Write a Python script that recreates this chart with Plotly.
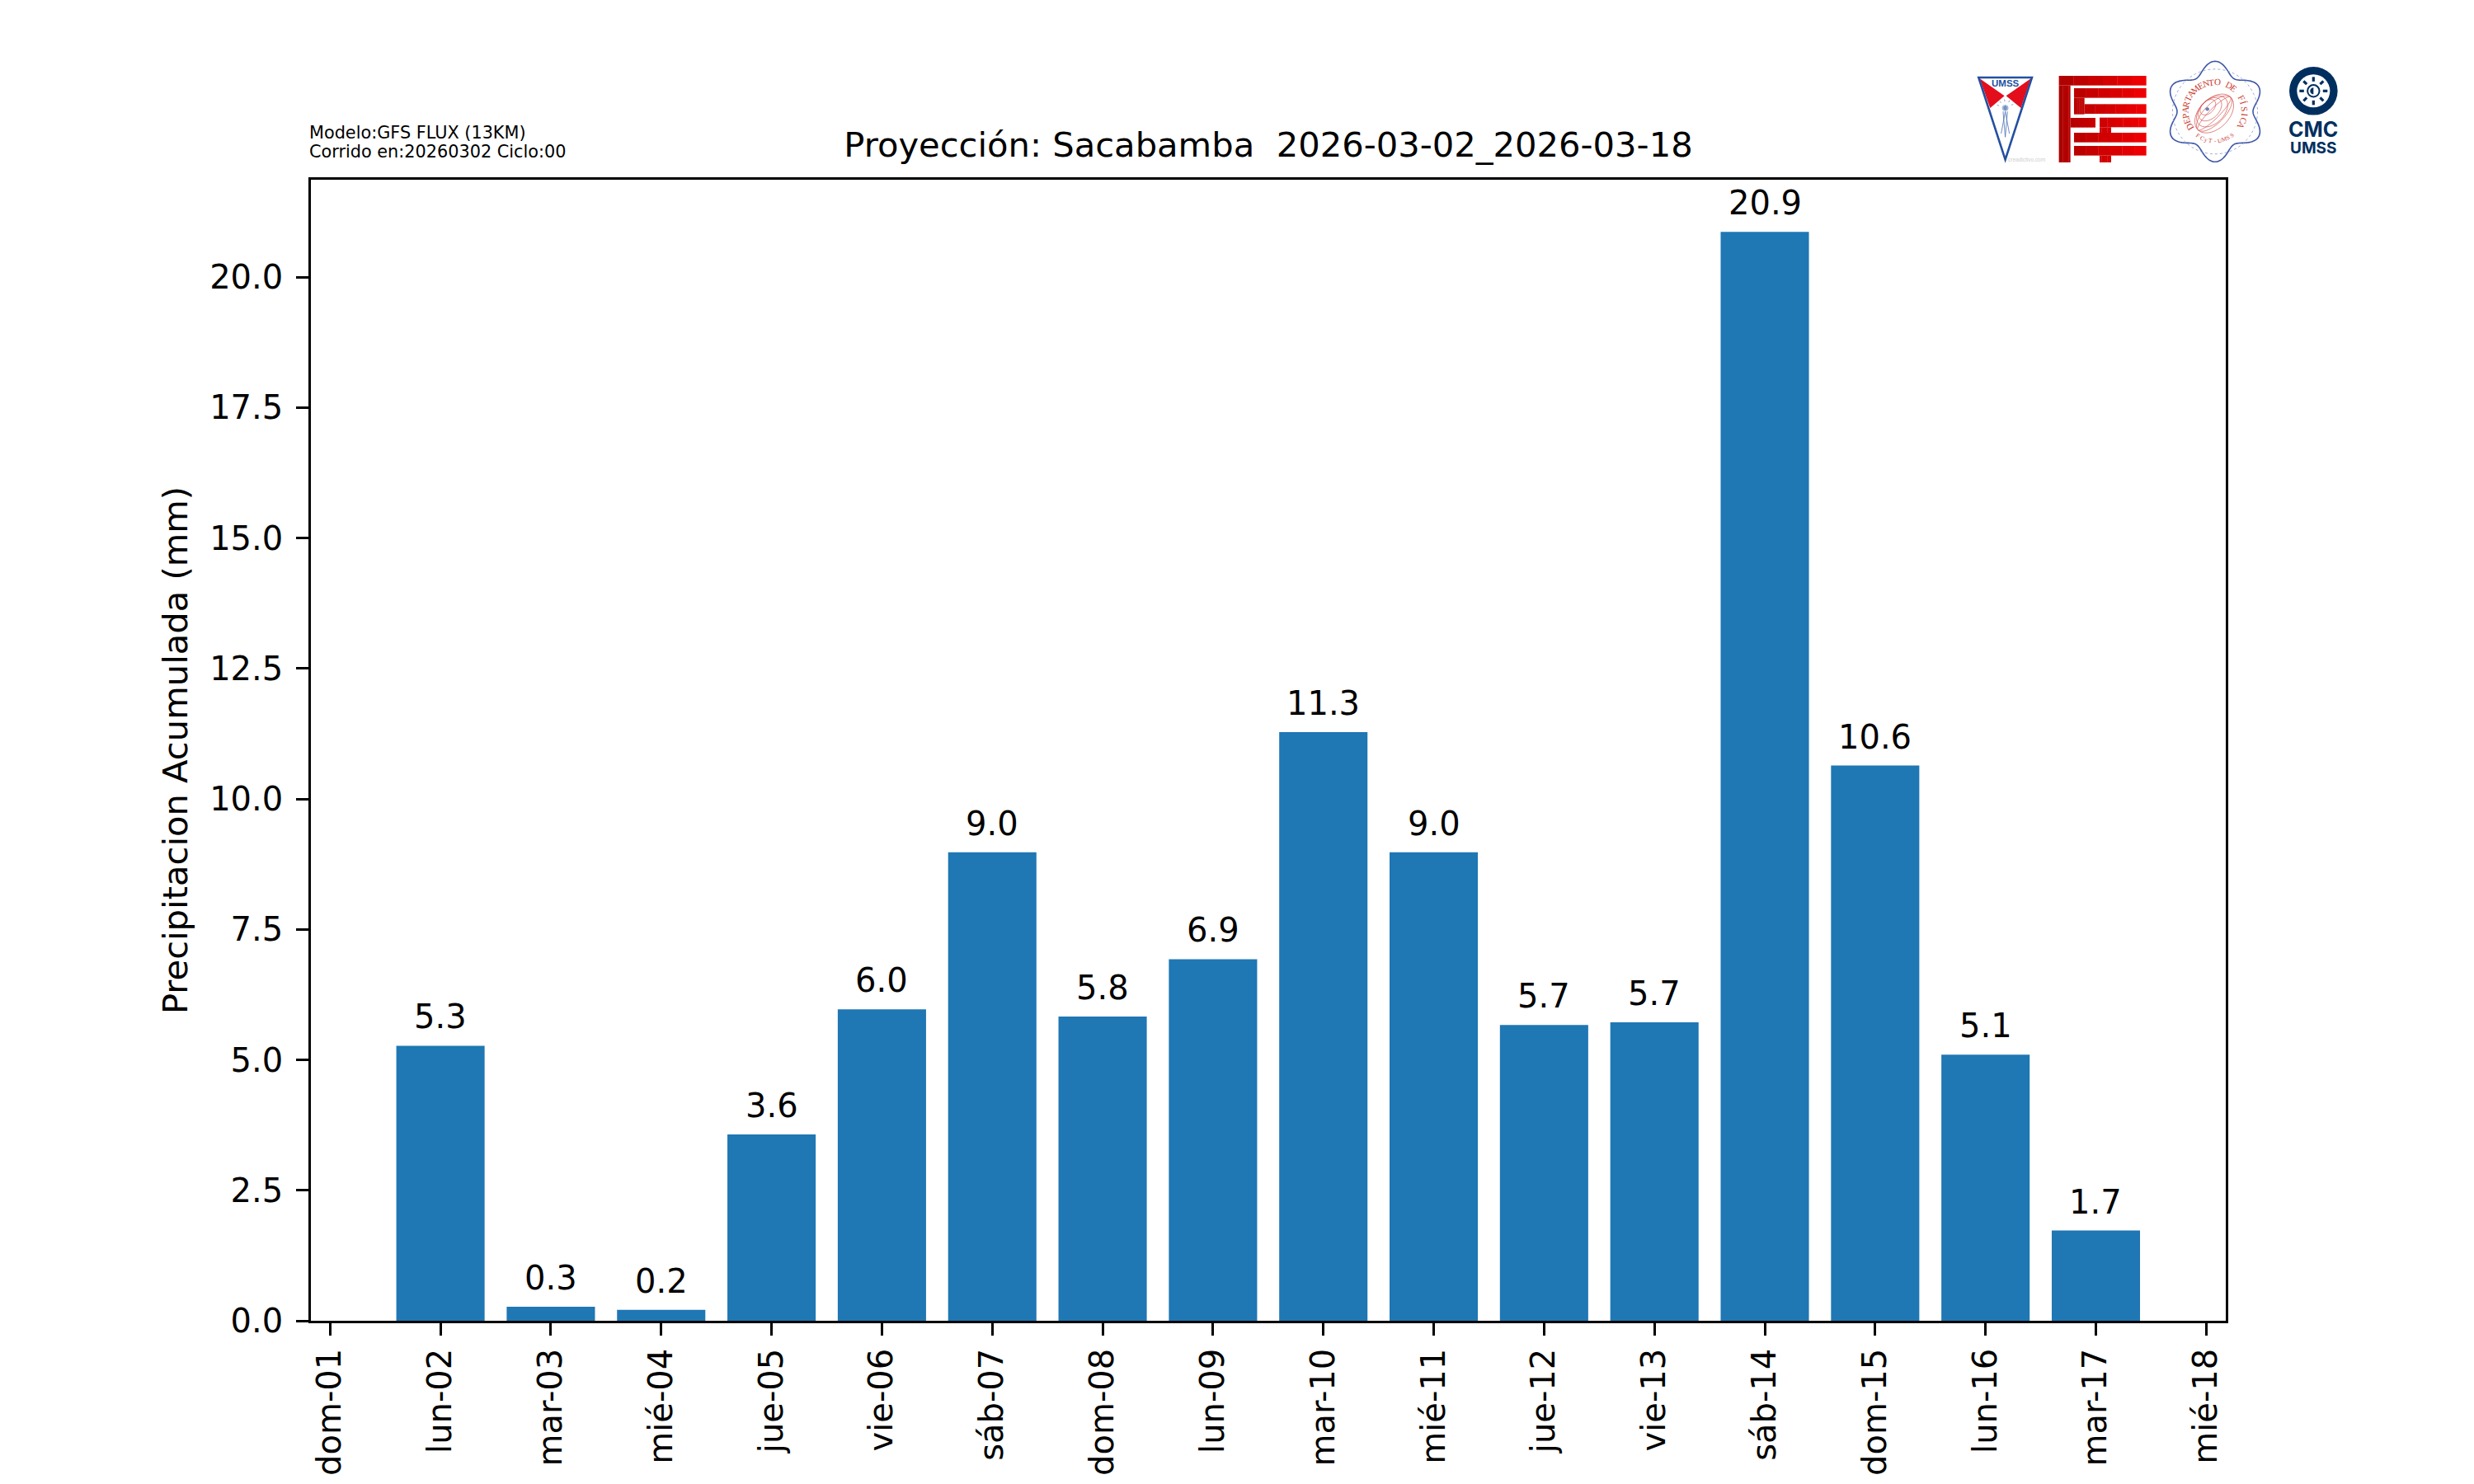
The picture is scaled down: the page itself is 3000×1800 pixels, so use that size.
import math
import plotly.graph_objects as go

# ---------- data ----------
day_labels = ["dom-01", "lun-02", "mar-03", "mié-04", "jue-05", "vie-06", "sáb-07", "dom-08", "lun-09",
              "mar-10", "mié-11", "jue-12", "vie-13", "sáb-14", "dom-15", "lun-16", "mar-17", "mié-18"]
bar_days = day_labels[1:17]
precip_mm = [5.27, 0.27, 0.21, 3.57, 5.97, 8.98, 5.83, 6.93, 11.28, 8.98, 5.67, 5.72, 20.87, 10.64, 5.10, 1.73]
y_ticks = [0, 2.5, 5, 7.5, 10, 12.5, 15, 17.5, 20]
y_tick_text = ["0.0", "2.5", "5.0", "7.5", "10.0", "12.5", "15.0", "17.5", "20.0"]
title_text = "Proyección: Sacabamba  2026-03-02_2026-03-18"
y_title = "Precipitacion Acumulada (mm)"
model_line = "Modelo:GFS FLUX (13KM)"
run_line = "Corrido en:20260302 Ciclo:00"

W, H = 3000, 1800
L, R, T, B = 377.4, 2699.0, 217.7, 1602.0
FONT = "DejaVu Sans"
PT10 = 41.67
TICK = 40


def px(x):
    return (x - L) / (R - L)


def py(y):
    return (B - y) / (B - T)


shapes = []
notes = []


def poly(points, fill=None, line=None, lw=0, closed=True, dash=None):
    d = "M" + " L".join(f"{px(a):.6f},{py(b):.6f}" for a, b in points) + (" Z" if closed else "")
    ln = dict(width=lw, color=line if line else "rgba(0,0,0,0)")
    if dash:
        ln["dash"] = dash
    shapes.append(dict(type="path", path=d, xref="paper", yref="paper", layer="above",
                       fillcolor=fill if fill else "rgba(0,0,0,0)", line=ln))


def rect(x0, y0, x1, y1, fill):
    poly([(x0, y0), (x1, y0), (x1, y1), (x0, y1)], fill=fill)


def label(x, y, text, size, color="#000000", family=FONT, anchor="center", angle=0, bold=False):
    if bold:
        text = f"<b>{text}</b>"
    notes.append(dict(x=px(x), y=py(y), xref="paper", yref="paper", text=text, showarrow=False,
                      xanchor=anchor, yanchor="middle", textangle=angle,
                      font=dict(family=family, size=size, color=color)))


# ---------- logo 1: UMSS pennant ----------
ux, uy = 2380, 60
def u(a, b):
    return (ux + a / 3, uy + b / 3)

BLUE = "#2350a0"
poly([u(62, 105), u(152, 168), u(100, 212)], fill="#e30d1c")
poly([u(248, 105), u(158, 168), u(212, 212)], fill="#e30d1c")
poly([u(58, 101), u(252, 101), u(155, 400)], line=BLUE, lw=2.6)
label(*u(155, 122), "UMSS", 11.5, BLUE, "Liberation Sans", bold=True)
for a, b, c, d in [(155, 225, 140, 305), (155, 225, 170, 305), (147, 225, 155, 318), (163, 225, 155, 318)]:
    poly([u(a, b), u(c, d)], line="#4a6fb5", lw=0.8, closed=False)
for deg in range(0, 360, 30):
    c = math.cos(math.radians(deg))
    s = math.sin(math.radians(deg))
    poly([u(155 + 12 * c, 212 + 12 * s), u(155 + 2 * c, 212 + 2 * s)], line="#3f66ad", lw=0.8, closed=False)
for deg in (200, 230, 265, 300, 335):
    c = math.cos(math.radians(deg))
    s = math.sin(math.radians(deg))
    poly([u(155 + 24 * c, 212 + 24 * s), u(155 + 32 * c, 212 + 32 * s)], line="#6f8cc4", lw=0.8, closed=False)
label(*u(232, 400), "creadictivo.com", 6.5, "#cfcfcf", "Liberation Sans")

# ---------- logo 2: FCyT maze with a left-to-right red gradient ----------
fx0, fx1 = 350, 668


def grad(a0, b0, a1, b1):
    edges = [a0 + (a1 - a0) * i / 6 for i in range(7)]
    for i in range(6):
        t = ((edges[i] + edges[i + 1]) / 2 - fx0) / (fx1 - fx0)
        col = f"rgb({int(172 + 70 * t)},0,{int(4 * t)})"
        x0, y0 = u(edges[i], b0)
        x1, y1 = u(min(edges[i + 1] + 1, a1), b1)
        rect(x0, y0, x1, y1, col)


maze = [(350, 95, 668, 130), (350, 130, 392, 410), (392, 248, 483, 283),
        (405, 140, 668, 175), (405, 175, 443, 235), (443, 198, 668, 233),
        (498, 247, 668, 282), (498, 282, 540, 302), (405, 302, 668, 337),
        (405, 350, 668, 385), (498, 385, 540, 410)]
for piece in maze:
    grad(*piece)

# ---------- logo 3: Departamento de Fisica seal ----------
sx, sy = 2686.0, 135.0
wave = []
for i in range(240):
    th = 2 * math.pi * i / 240
    r = 53.5 + 7.5 * math.cos(6 * (th - math.pi / 2))
    wave.append((sx + r * math.cos(th), sy + r * math.sin(th)))
poly(wave, line="#3d56a6", lw=1.6)
poly([(sx + 51.5 * math.cos(2 * math.pi * i / 120), sy + 51.5 * math.sin(2 * math.pi * i / 120)) for i in range(120)],
     line="#8496cf", lw=0.8, dash="dot")
arc_text = "DEPARTAMENTO DE FÍSICA"
for i, ch in enumerate(arc_text):
    deg = -211 + i * (240 / (len(arc_text) - 1))
    rad = math.radians(deg)
    label(sx + 36 * math.cos(rad), sy + 36 * math.sin(rad), ch, 11, "#c93a2e", "Liberation Serif", angle=deg + 90)
low_text = "FCyT-UMSS"
for i, ch in enumerate(low_text):
    deg = 125 - i * (71 / (len(low_text) - 1))
    rad = math.radians(deg)
    label(sx + 36 * math.cos(rad), sy + 36 * math.sin(rad), ch, 7, "#c93a2e", "Liberation Serif", angle=deg - 90)
gx, gy = 2620 + 195 / 3, 60 + 232 / 3
rot = math.radians(-45)


def tilted(ra, rb, ox=0.0, oy=0.0):
    pts = []
    for i in range(60):
        th = 2 * math.pi * i / 60
        ex, ey = ra * math.cos(th), rb * math.sin(th)
        pts.append((gx + ox + ex * math.cos(rot) - ey * math.sin(rot), gy + oy + ex * math.sin(rot) + ey * math.cos(rot)))
    poly(pts, line="#d2504a", lw=0.7)


for s in (1.0, 0.8, 0.6, 0.4):
    tilted(28 * s, 18 * s, -12.7 * (1 - s), -12.7 * (1 - s))
for rb in (12, 6):
    tilted(28, rb)
poly([(2620 + 170 / 3 + 2.2 * math.cos(t / 12 * 6.283), 60 + 216 / 3 + 2.2 * math.sin(t / 12 * 6.283)) for t in range(12)],
     fill="#6c7fbd")

# ---------- logo 4: CMC UMSS ----------
NAVY = "#002f5f"
cx, cy = 2805.3, 110.0


def circle(x, y, r, fill=None, line=None, lw=0):
    shapes.append(dict(type="circle", xref="paper", yref="paper", layer="above",
                       x0=px(x - r), x1=px(x + r), y0=py(y + r), y1=py(y - r),
                       fillcolor=fill if fill else "rgba(0,0,0,0)",
                       line=dict(width=lw, color=line if line else "rgba(0,0,0,0)")))


circle(cx, cy, 29.3, fill=NAVY)
circle(cx, cy, 20, fill="#ffffff")
circle(cx, cy, 7.2, line=NAVY, lw=2)
poly([(cx + 4 * math.cos(math.pi / 2 + t * math.pi / 10), cy + 4 * math.sin(math.pi / 2 + t * math.pi / 10)) for t in range(11)],
     fill=NAVY)
for deg in range(0, 360, 45):
    c = math.cos(math.radians(deg))
    s = math.sin(math.radians(deg))
    poly([(cx + 11.5 * c, cy + 11.5 * s), (cx + 17 * c, cy + 17 * s)], line=NAVY, lw=3.2, closed=False)
label(cx, 157, "CMC", 25, NAVY, "Inter", bold=True)
label(cx, 179, "UMSS", 19, NAVY, "Inter", bold=True)

# ---------- header text ----------
label(373, 161, model_line, 20.8, anchor="left")
label(373, 184, run_line, 20.8, anchor="left")

# ---------- value labels, positioned from the data ----------
for d, v in zip(bar_days, precip_mm):
    notes.append(dict(x=d, y=v, xref="x", yref="y", text=f"{v:.1f}", showarrow=False,
                      xanchor="center", yanchor="bottom", yshift=10,
                      font=dict(family=FONT, size=TICK, color="#000000")))

fig = go.Figure(go.Bar(x=bar_days, y=precip_mm, width=0.8, marker=dict(color="#1f77b4", line=dict(width=0)),
                       hoverinfo="x+y"))
axis_common = dict(showline=True, linecolor="#000000", linewidth=3.33, mirror=True, showgrid=False, zeroline=False,
                   ticks="outside", ticklen=14.6, tickwidth=3.33, tickcolor="#000000",
                   tickfont=dict(family=FONT, size=TICK, color="#000000"), automargin=False)
fig.update_layout(
    width=W, height=H, autosize=False, showlegend=False,
    paper_bgcolor="#ffffff", plot_bgcolor="#ffffff",
    margin=dict(l=L, r=W - R, t=T, b=H - B, pad=0),
    font=dict(family=FONT, color="#000000"),
    title=dict(text=title_text, font=dict(family=FONT, size=PT10, color="#000000"),
               xref="paper", x=0.5, xanchor="center", yref="paper", y=1, yanchor="bottom", pad=dict(b=28)),
    xaxis=dict(type="category", categoryorder="array", categoryarray=day_labels, tickmode="array",
               tickvals=day_labels, ticktext=day_labels, tickangle=-90, range=[-0.174, 17.177], **axis_common),
    yaxis=dict(range=[0, 21.868], tickmode="array", tickvals=y_ticks, ticktext=y_tick_text,
               ticklabelstandoff=8,
               title=dict(text=y_title, font=dict(family=FONT, size=PT10, color="#000000"), standoff=14), **axis_common),
    shapes=shapes, annotations=notes,
)
fig.write_html("out.html", post_script="document.body.style.margin='0';", config={"displayModeBar": False})
